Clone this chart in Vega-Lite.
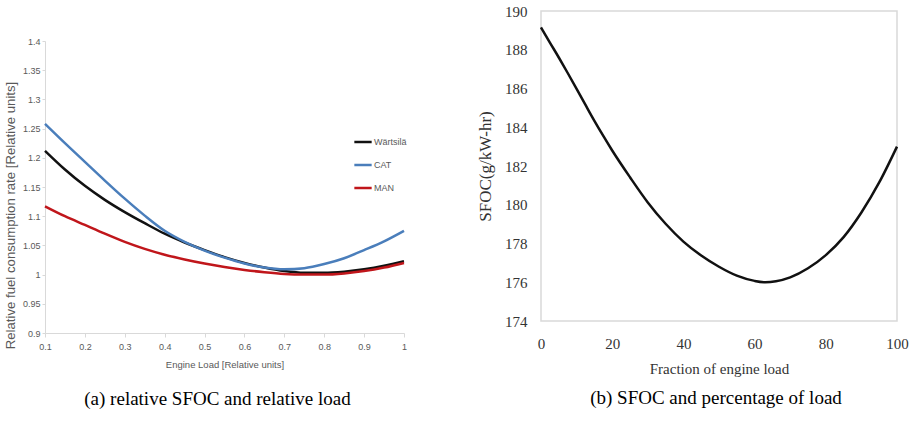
{
  "$schema": "https://vega.github.io/schema/vega-lite/v6.json",
  "padding": {"left": 3, "top": 3, "right": 0, "bottom": 0},
  "background": "white",
  "datasets": {
    "rel": [
      {"load": 0.1, "engine": "Wärtsilä", "sfoc": 1.212},
      {"load": 0.15, "engine": "Wärtsilä", "sfoc": 1.180},
      {"load": 0.2, "engine": "Wärtsilä", "sfoc": 1.152},
      {"load": 0.25, "engine": "Wärtsilä", "sfoc": 1.128},
      {"load": 0.3, "engine": "Wärtsilä", "sfoc": 1.107},
      {"load": 0.35, "engine": "Wärtsilä", "sfoc": 1.088},
      {"load": 0.4, "engine": "Wärtsilä", "sfoc": 1.070},
      {"load": 0.45, "engine": "Wärtsilä", "sfoc": 1.055},
      {"load": 0.5, "engine": "Wärtsilä", "sfoc": 1.042},
      {"load": 0.55, "engine": "Wärtsilä", "sfoc": 1.030},
      {"load": 0.6, "engine": "Wärtsilä", "sfoc": 1.020},
      {"load": 0.65, "engine": "Wärtsilä", "sfoc": 1.012},
      {"load": 0.7, "engine": "Wärtsilä", "sfoc": 1.006},
      {"load": 0.75, "engine": "Wärtsilä", "sfoc": 1.003},
      {"load": 0.8, "engine": "Wärtsilä", "sfoc": 1.003},
      {"load": 0.85, "engine": "Wärtsilä", "sfoc": 1.005},
      {"load": 0.9, "engine": "Wärtsilä", "sfoc": 1.009},
      {"load": 0.95, "engine": "Wärtsilä", "sfoc": 1.015},
      {"load": 1.0, "engine": "Wärtsilä", "sfoc": 1.023},
      {"load": 0.1, "engine": "CAT", "sfoc": 1.258},
      {"load": 0.15, "engine": "CAT", "sfoc": 1.225},
      {"load": 0.2, "engine": "CAT", "sfoc": 1.193},
      {"load": 0.25, "engine": "CAT", "sfoc": 1.161},
      {"load": 0.3, "engine": "CAT", "sfoc": 1.130},
      {"load": 0.35, "engine": "CAT", "sfoc": 1.101},
      {"load": 0.4, "engine": "CAT", "sfoc": 1.075},
      {"load": 0.45, "engine": "CAT", "sfoc": 1.056},
      {"load": 0.5, "engine": "CAT", "sfoc": 1.041},
      {"load": 0.55, "engine": "CAT", "sfoc": 1.029},
      {"load": 0.6, "engine": "CAT", "sfoc": 1.019},
      {"load": 0.65, "engine": "CAT", "sfoc": 1.012},
      {"load": 0.7, "engine": "CAT", "sfoc": 1.009},
      {"load": 0.75, "engine": "CAT", "sfoc": 1.011},
      {"load": 0.8, "engine": "CAT", "sfoc": 1.018},
      {"load": 0.85, "engine": "CAT", "sfoc": 1.028},
      {"load": 0.9, "engine": "CAT", "sfoc": 1.042},
      {"load": 0.95, "engine": "CAT", "sfoc": 1.057},
      {"load": 1.0, "engine": "CAT", "sfoc": 1.075},
      {"load": 0.1, "engine": "MAN", "sfoc": 1.117},
      {"load": 0.15, "engine": "MAN", "sfoc": 1.100},
      {"load": 0.2, "engine": "MAN", "sfoc": 1.085},
      {"load": 0.25, "engine": "MAN", "sfoc": 1.070},
      {"load": 0.3, "engine": "MAN", "sfoc": 1.056},
      {"load": 0.35, "engine": "MAN", "sfoc": 1.044},
      {"load": 0.4, "engine": "MAN", "sfoc": 1.034},
      {"load": 0.45, "engine": "MAN", "sfoc": 1.026},
      {"load": 0.5, "engine": "MAN", "sfoc": 1.019},
      {"load": 0.55, "engine": "MAN", "sfoc": 1.013},
      {"load": 0.6, "engine": "MAN", "sfoc": 1.008},
      {"load": 0.65, "engine": "MAN", "sfoc": 1.004},
      {"load": 0.7, "engine": "MAN", "sfoc": 1.001},
      {"load": 0.75, "engine": "MAN", "sfoc": 1.000},
      {"load": 0.8, "engine": "MAN", "sfoc": 1.000},
      {"load": 0.85, "engine": "MAN", "sfoc": 1.002},
      {"load": 0.9, "engine": "MAN", "sfoc": 1.006},
      {"load": 0.95, "engine": "MAN", "sfoc": 1.012},
      {"load": 1.0, "engine": "MAN", "sfoc": 1.020}
    ],
    "abs": [
      {"pct": 0, "sfoc": 189.15},
      {"pct": 2.5, "sfoc": 188.37},
      {"pct": 5, "sfoc": 187.6},
      {"pct": 7.5, "sfoc": 186.8},
      {"pct": 10, "sfoc": 185.98},
      {"pct": 12.5, "sfoc": 185.15},
      {"pct": 15, "sfoc": 184.33},
      {"pct": 17.5, "sfoc": 183.55},
      {"pct": 20, "sfoc": 182.8},
      {"pct": 25, "sfoc": 181.42},
      {"pct": 30, "sfoc": 180.12},
      {"pct": 35, "sfoc": 179.02},
      {"pct": 40, "sfoc": 178.1},
      {"pct": 45, "sfoc": 177.38},
      {"pct": 50, "sfoc": 176.8},
      {"pct": 55, "sfoc": 176.34},
      {"pct": 60, "sfoc": 176.07},
      {"pct": 63, "sfoc": 176.0},
      {"pct": 66, "sfoc": 176.05},
      {"pct": 70, "sfoc": 176.25},
      {"pct": 75, "sfoc": 176.72},
      {"pct": 80, "sfoc": 177.4},
      {"pct": 85, "sfoc": 178.33},
      {"pct": 90, "sfoc": 179.6},
      {"pct": 95, "sfoc": 181.15},
      {"pct": 100, "sfoc": 183.0}
    ]
  },
  "spacing": 66,
  "hconcat": [
    {
      "width": 359,
      "height": 322,
      "view": {"stroke": null},
      "data": {"name": "rel"},
      "title": {"text": "(a) relative SFOC and relative load", "orient": "bottom", "font": "Liberation Serif", "fontSize": 19, "fontWeight": "normal", "color": "black", "offset": 21, "anchor": "middle", "dx": -7},
      "mark": {"type": "line", "interpolate": "monotone", "strokeWidth": 2.5},
      "encoding": {
        "x": {
          "field": "load", "type": "quantitative",
          "scale": {"domain": [0.1, 1], "nice": false, "zero": false},
          "axis": {
            "title": "Engine Load [Relative units]",
            "values": [0.1, 0.2, 0.3, 0.4, 0.5, 0.6, 0.7, 0.8, 0.9, 1],
            "format": "~g",
            "grid": false,
            "domainColor": "#d9d9d9",
            "tickColor": "#d9d9d9",
            "tickSize": 4,
            "labelFont": "Liberation Sans", "labelFontSize": 9, "labelColor": "#595959", "labelPadding": 5,
            "titleFont": "Liberation Sans", "titleFontSize": 9.5, "titleFontWeight": "normal", "titleColor": "#595959", "titlePadding": 8,
            "labelFlush": false
          }
        },
        "y": {
          "field": "sfoc", "type": "quantitative",
          "scale": {"domain": [0.9, 1.4], "nice": false, "zero": false, "range": [322, 30]},
          "axis": {
            "title": "Relative fuel consumption rate [Relative units]",
            "values": [0.9, 0.95, 1, 1.05, 1.1, 1.15, 1.2, 1.25, 1.3, 1.35, 1.4],
            "format": "~g",
            "grid": false,
            "domainColor": "#d9d9d9",
            "tickColor": "#d9d9d9",
            "tickSize": 3,
            "labelFont": "Liberation Sans", "labelFontSize": 9, "labelColor": "#595959", "labelPadding": 2,
            "titleFont": "Liberation Sans", "titleFontSize": 13.2, "titleFontWeight": "normal", "titleColor": "#595959", "titlePadding": 5,
            "titleY": 204
          }
        },
        "color": {
          "field": "engine", "type": "nominal",
          "scale": {"domain": ["Wärtsilä", "CAT", "MAN"], "range": ["#111111", "#4a7ebb", "#c0161b"]},
          "legend": {
            "title": null, "orient": "none", "legendX": 308, "legendY": 121,
            "symbolType": "stroke", "symbolSize": 300, "symbolStrokeWidth": 2.5,
            "labelFont": "Liberation Sans", "labelFontSize": 9, "labelColor": "#595959", "labelOffset": 1,
            "rowPadding": 8
          }
        }
      }
    },
    {
      "width": 356,
      "height": 310,
      "view": {"stroke": "#d9d9d9", "strokeWidth": 1.5},
      "data": {"name": "abs"},
      "title": {"text": "(b) SFOC and percentage of load", "orient": "bottom", "font": "Liberation Serif", "fontSize": 19, "fontWeight": "normal", "color": "black", "offset": 13, "anchor": "middle", "dx": -3},
      "mark": {"type": "line", "interpolate": "monotone", "strokeWidth": 2.5, "color": "#111111"},
      "encoding": {
        "x": {
          "field": "pct", "type": "quantitative",
          "scale": {"domain": [0, 100], "nice": false},
          "axis": {
            "title": "Fraction of engine load",
            "values": [0, 20, 40, 60, 80, 100],
            "grid": false, "domain": false, "ticks": false,
            "labelFont": "Liberation Serif", "labelFontSize": 15, "labelColor": "#333333", "labelPadding": 15,
            "titleFont": "Liberation Serif", "titleFontSize": 15, "titleFontWeight": "normal", "titleColor": "#333333", "titlePadding": 10,
            "labelFlush": false
          }
        },
        "y": {
          "field": "sfoc", "type": "quantitative",
          "scale": {"domain": [174, 190], "nice": false, "zero": false},
          "axis": {
            "title": "SFOC(g/kW-hr)",
            "values": [174, 176, 178, 180, 182, 184, 186, 188, 190],
            "grid": false, "domain": false, "ticks": false,
            "labelFont": "Liberation Serif", "labelFontSize": 15, "labelColor": "#333333", "labelPadding": 14,
            "titleFont": "Liberation Serif", "titleFontSize": 17, "titleFontWeight": "normal", "titleColor": "#333333", "titlePadding": 10
          }
        }
      }
    }
  ]
}
